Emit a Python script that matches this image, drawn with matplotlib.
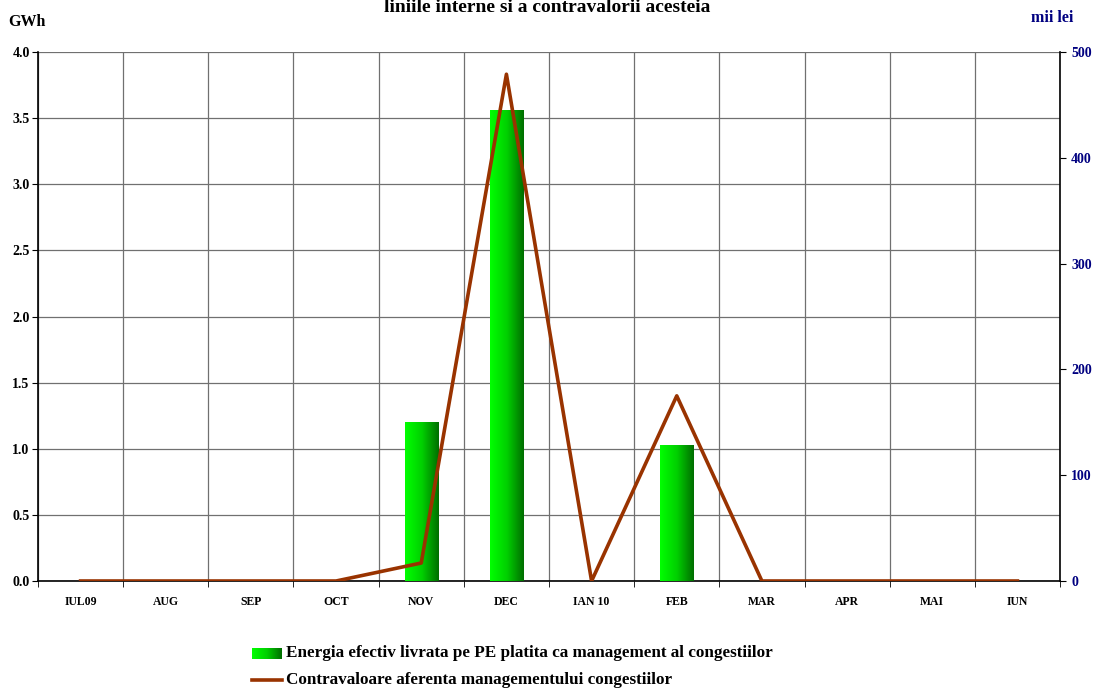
import numpy as np
import matplotlib.pyplot as plt
from matplotlib.colors import LinearSegmentedColormap

luni = ["IUL09", "AUG", "SEP", "OCT", "NOV", "DEC", "IAN 10", "FEB", "MAR", "APR", "MAI", "IUN"]
energie = [0, 0, 0, 0, 1.2, 3.56, 0, 1.03, 0, 0, 0, 0]          # GWh
contravaloare = [0, 0, 0, 0, 17, 479, 0, 175, 0, 0, 0, 0]      # mii lei

plt.rcParams['font.family'] = ['Liberation Serif', 'DejaVu Serif']
plt.rcParams['font.weight'] = 'bold'

fig = plt.figure(figsize=(10.93, 6.89), dpi=100)
ax = fig.add_axes([38/1093, 1 - 581/689, 1022/1093, 529/689])
x = np.arange(len(luni))

ax.set_xlim(-0.5, len(luni) - 0.5)
ax.set_ylim(0, 4)
ax.set_yticks(np.arange(0, 4.01, 0.5))
ax.set_yticklabels(["%.1f" % v for v in np.arange(0, 4.01, 0.5)], fontsize=10, fontweight='bold')
ax.set_xticks(x)
ax.set_xticklabels(luni, fontsize=8.5, fontweight='bold')
ax.set_xticks(np.arange(-0.5, len(luni), 1), minor=True)
ax.tick_params(axis='x', which='major', length=0, pad=11)
ax.tick_params(axis='x', which='minor', length=4, direction='out')
ax.tick_params(axis='y', length=4, direction='out', pad=2)
ax.grid(True, axis='y', color='#707070', lw=0.9)
ax.grid(True, axis='x', which='minor', color='#707070', lw=0.9)
for s in ['top', 'right']:
    ax.spines[s].set_visible(False)
ax.spines['left'].set_linewidth(1.2)
ax.spines['bottom'].set_linewidth(1.2)

# bare cu gradient verde
cmap = LinearSegmentedColormap.from_list("verde", ["#00ff00", "#00d000", "#006e00"])
grad = np.linspace(0, 1, 100).reshape(1, -1)
bars = ax.bar(x, energie, width=0.39, color='none', edgecolor='none', zorder=3)
for b in bars:
    if b.get_height() <= 0:
        continue
    im = ax.imshow(grad, cmap=cmap, aspect='auto', zorder=3,
                   extent=[b.get_x(), b.get_x() + b.get_width(), 0, b.get_height()])
    im.set_clip_path(b)
ax.set_xlim(-0.5, len(luni) - 0.5)
ax.set_ylim(0, 4)

ax2 = ax.twinx()
ax2.set_ylim(0, 500)
ax2.set_yticks(np.arange(0, 501, 100))
ax2.set_yticklabels([str(v) for v in range(0, 501, 100)], fontsize=10, fontweight='bold', color='#000080')
ax2.tick_params(axis='y', length=4, direction='out', pad=4)
for s in ['top', 'left', 'bottom']:
    ax2.spines[s].set_visible(False)
ax2.spines['right'].set_linewidth(1.2)
ax2.plot(x, contravaloare, color='#993300', lw=2.6, zorder=4)

fig.text(8/1093, 1 - 22/689, "GWh", fontsize=11.5, fontweight='bold', ha='left', va='center')
fig.text(1052/1093, 1 - 18/689, "mii lei", fontsize=11.5, fontweight='bold', color='#000080', ha='center', va='center')
fig.text(547/1093, 1 - 8/689, "liniile interne si a contravalorii acesteia", fontsize=14,
         fontweight='bold', ha='center', va='center')

# legenda
lx = 252/1093
leg_ax = fig.add_axes([lx, 1 - 659/689, 30/1093, 11/689])
leg_ax.imshow(grad, cmap=cmap, aspect='auto')
leg_ax.axis('off')
fig.add_artist(plt.Line2D([lx, lx + 30/1093], [1 - 680/689, 1 - 680/689], color='#993300', lw=2.6))
fig.text(286/1093, 1 - 653/689, "Energia efectiv livrata pe PE platita ca management al congestiilor",
         fontsize=12.3, fontweight='bold', va='center')
fig.text(286/1093, 1 - 680/689, "Contravaloare aferenta managementului congestiilor",
         fontsize=12.3, fontweight='bold', va='center')

fig.savefig("out.png", dpi=100)
